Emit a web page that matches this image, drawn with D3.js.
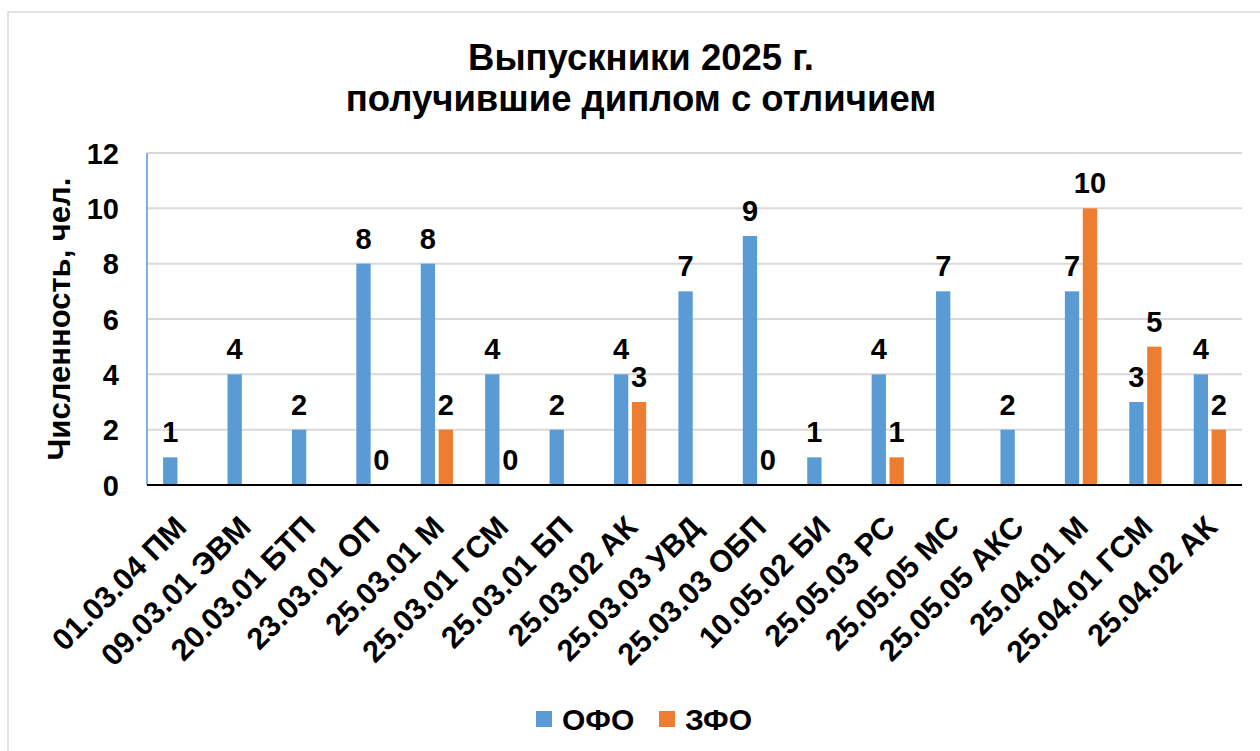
<!DOCTYPE html>
<html><head><meta charset="utf-8">
<script src="https://cdn.jsdelivr.net/npm/d3@7"></script>
<style>
html,body{margin:0;padding:0;background:#fff;}
svg{display:block;font-family:"Liberation Sans",Arial,sans-serif;font-weight:bold;}
</style></head>
<body>
<svg id="c" width="1260" height="751"></svg>
<script>
const titleLines = ["Выпускники 2025 г.", "получившие диплом с отличием"];
const yTitle = "Численность, чел.";
const categories = ["01.03.04 ПМ","09.03.01 ЭВМ","20.03.01 БТП","23.03.01 ОП","25.03.01 М","25.03.01 ГСМ","25.03.01 БП","25.03.02 АК","25.03.03 УВД","25.03.03 ОБП","10.05.02 БИ","25.05.03 РС","25.05.05 МС","25.05.05 АКС","25.04.01 М","25.04.01 ГСМ","25.04.02 АК"];
const seriesNames = ["ОФО","ЗФО"];
const ofo = [1,4,2,8,8,4,2,4,7,9,1,4,7,2,7,3,4];
const zfo = [null,null,null,0,2,0,null,3,null,0,null,1,null,null,10,5,2];
const yTicks = [0,2,4,6,8,10,12];
const colors = ["#5B9BD5","#ED7D31"];

const svg = d3.select("#c");
const W = 1260, H = 751;
const m = {left:147, right:1242, top:153, bottom:485};

// outer border
svg.append("rect").attr("x",8).attr("y",12).attr("width",W).attr("height",H)
  .attr("fill","#fff").attr("stroke","#d9d9d9").attr("stroke-width",1.5);

// title
const tl = svg.append("g");
titleLines.forEach((t,i)=>{
  tl.append("text").attr("x",641).attr("y",70+i*41)
    .attr("text-anchor","middle").attr("font-size",36.5).attr("fill","#000").text(t);
});

const x0 = d3.scaleBand().domain(categories).range([m.left,m.right]).padding(0);
const x1 = d3.scaleBand().domain(seriesNames)
  .range([x0.bandwidth()*0.25, x0.bandwidth()*0.75]).paddingInner(0.2);
const y = d3.scaleLinear().domain([0,12]).range([m.bottom,m.top]);

// gridlines
svg.append("g").selectAll("line").data(yTicks.filter(d=>d>0)).join("line")
  .attr("x1",m.left).attr("x2",m.right).attr("y1",d=>y(d)).attr("y2",d=>y(d))
  .attr("stroke","#d9d9d9").attr("stroke-width",2);

// y axis labels
svg.append("g").selectAll("text").data(yTicks).join("text")
  .attr("x",119).attr("y",d=>y(d)+10.5)
  .attr("text-anchor","end").attr("font-size",29).text(d=>d);

// y axis line
svg.append("line").attr("x1",m.left).attr("x2",m.left).attr("y1",m.top).attr("y2",m.bottom)
  .attr("stroke","#7fb0e0").attr("stroke-width",2);

// y title
svg.append("text").attr("transform",`translate(70,${(m.top+m.bottom)/2}) rotate(-90)`)
  .attr("text-anchor","middle").attr("font-size",31).text(yTitle);

// bars
const series = [ofo, zfo];
series.forEach((vals,si)=>{
  const g = svg.append("g");
  const data = vals.map((v,i)=>({v, c:categories[i]})).filter(d=>d.v!==null);
  g.selectAll("rect").data(data).join("rect")
    .attr("x",d=>x0(d.c)+x1(seriesNames[si]))
    .attr("width",x1.bandwidth())
    .attr("y",d=>y(d.v)).attr("height",d=>y(0)-y(d.v))
    .attr("fill",colors[si]);
  g.selectAll("text").data(data).join("text")
    .attr("x",d=>x0(d.c)+x1(seriesNames[si])+x1.bandwidth()/2)
    .attr("y",d=>y(d.v)-15)
    .attr("text-anchor","middle").attr("font-size",29).text(d=>d.v);
});

// x axis line
svg.append("line").attr("x1",m.left).attr("x2",m.right).attr("y1",y(0)).attr("y2",y(0))
  .attr("stroke","#000").attr("stroke-width",2);

// x labels
svg.append("g").selectAll("text").data(categories).join("text")
  .attr("transform",d=>`translate(${x0(d)+x0.bandwidth()/2+9},${m.bottom+44}) rotate(-45)`)
  .attr("text-anchor","end").attr("font-size",30.5).text(d=>d);

// legend
const lg = svg.append("g");
const lx = [536, 659];
seriesNames.forEach((n,i)=>{
  lg.append("rect").attr("x",lx[i]).attr("y",711).attr("width",16).attr("height",16).attr("fill",colors[i]);
  lg.append("text").attr("x",lx[i]+26).attr("y",730)
    .attr("font-size",30).text(n);
});
</script>
</body></html>
